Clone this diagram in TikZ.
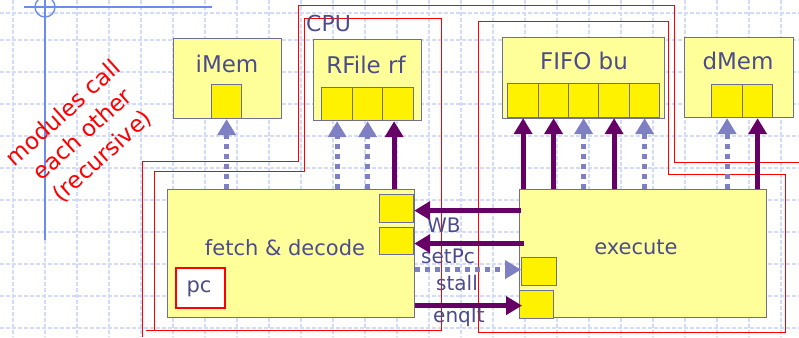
\documentclass[tikz,border=0pt]{standalone}
\usepackage{fontspec}
\setmainfont{DejaVu Sans}
\usetikzlibrary{arrows.meta}
\definecolor{boxy}{HTML}{FFFF99}
\definecolor{bordc}{HTML}{6E6E96}
\definecolor{txtc}{HTML}{4C4C8C}
\definecolor{purp}{HTML}{660066}
\definecolor{lav}{HTML}{7F7FC4}
\definecolor{gridc}{HTML}{D3DCF6}
\definecolor{bluel}{HTML}{6C8CEC}
\tikzset{
  modbox/.style={draw=bordc, fill=boxy, line width=1.2pt, inner sep=0pt, anchor=north west},
  cellbox/.style={draw=bordc, fill=yellow, line width=1.2pt, inner sep=0pt, anchor=north west},
  ttl/.style={text=txtc, font=\fontsize{23}{28}\selectfont, inner sep=0pt},
  mtxt/.style={text=txtc, font=\fontsize{21}{26}\selectfont, inner sep=0pt},
  sig/.style={text=txtc, font=\fontsize{20}{24}\selectfont, inner sep=0pt, anchor=base west},
  solidarr/.style={draw=purp, line width=5pt, -{Triangle[width=18pt,length=16pt]}},
  dotarr/.style={draw=lav, line width=5pt, dash pattern=on 5pt off 5pt, -{Triangle[width=18pt,length=16pt]}},
  redln/.style={draw=red, line width=1pt},
  gridln/.style={draw=gridc, line width=1.1pt, dash pattern=on 4pt off 2pt},
  blueln/.style={draw=bluel, line width=2pt},
}
\begin{document}
\begin{tikzpicture}[x=1pt,y=-1pt]
\useasboundingbox (0,0) rectangle (799,337);
\fill[white] (0,0) rectangle (799,337);
% background grid
\foreach \x in {13,45,...,781} \draw[gridln] (\x,0) -- (\x,337);
\foreach \y in {13,40,72,...,328} \draw[gridln] (0,\y) -- (799,\y);
\draw[blueln] (45,0) -- (45,240);
\draw[blueln] (24,7) -- (212,7);
\draw[draw=bluel, line width=1.4pt] (45,7) circle (10pt);
% red outlines
\draw[redln] (142,337) -- (142,161) -- (298,161) -- (298,6) -- (674,6) -- (674,162) -- (799,162);
\draw[redln] (146,330) -- (441,330) -- (441,19) -- (304,19) -- (304,171) -- (154,171) -- (154,330);
\draw[redln] (478,22) -- (668,22) -- (668,174) -- (785,174) -- (785,332) -- (478,332) -- cycle;
% modules
\node[modbox, minimum width=108pt, minimum height=80pt] (imem) at (173,38) {};
\node[cellbox, minimum width=30pt, minimum height=34pt] (ic) at (211,84) {};
\node[modbox, minimum width=108pt, minimum height=81pt] (rfile) at (313,39) {};
\node[cellbox, minimum width=31pt, minimum height=33pt] (r1) at (321,87) {};
\node[cellbox, minimum width=30pt, minimum height=33pt] (r2) at (352,87) {};
\node[cellbox, minimum width=31pt, minimum height=33pt] (r3) at (382,87) {};
\node[modbox, minimum width=162pt, minimum height=81pt] (fifo) at (502,37) {};
\node[cellbox, minimum width=31pt, minimum height=34pt] (f1) at (507,83) {};
\node[cellbox, minimum width=30pt, minimum height=34pt] (f2) at (538,83) {};
\node[cellbox, minimum width=30pt, minimum height=34pt] (f3) at (568,83) {};
\node[cellbox, minimum width=31pt, minimum height=34pt] (f4) at (598,83) {};
\node[cellbox, minimum width=30pt, minimum height=34pt] (f5) at (629,83) {};
\node[modbox, minimum width=109pt, minimum height=80pt] (dmem) at (684,37) {};
\node[cellbox, minimum width=31pt, minimum height=33pt] (d1) at (711,84) {};
\node[cellbox, minimum width=30pt, minimum height=33pt] (d2) at (742,84) {};
\node[modbox, minimum width=247pt, minimum height=128pt] (fetch) at (167,189) {};
\node[cellbox, minimum width=34pt, minimum height=28pt] (sq1) at (379,194) {};
\node[cellbox, minimum width=34pt, minimum height=27pt] (sq2) at (379,227) {};
\node[draw=red, fill=white, line width=1.6pt, inner sep=0pt, anchor=north west, minimum width=49pt, minimum height=40pt] (pcbox) at (175,267) {};
\node[modbox, minimum width=247pt, minimum height=128pt] (exec) at (519,189) {};
\node[cellbox, minimum width=35pt, minimum height=28pt] (esq1) at (521,257) {};
\node[cellbox, minimum width=34pt, minimum height=28pt] (esq2) at (519,290) {};
% texts
\node[ttl, anchor=base] (timem) at (227,72) {iMem};
\node[ttl, anchor=base] (trf) at (366,73) {RFile rf};
\node[ttl, anchor=base] (tfifo) at (584,69) {FIFO bu};
\node[ttl, anchor=base] (tdmem) at (738,69) {dMem};
\node[text=txtc, font=\fontsize{22}{26}\selectfont, inner sep=0pt, anchor=base west] (tcpu) at (306,32) {CPU};
\node[mtxt, anchor=base] (tfetch) at (285,255) {fetch \& decode};
\node[mtxt, anchor=base] (texec) at (636,254) {execute};
\node[mtxt, anchor=base] (tpc) at (199,292) {pc};
\node[sig] (twb) at (427,232) {WB};
\node[sig] (tsp) at (421,263) {setPc};
\node[sig] (tst) at (436,290) {stall};
\node[sig] (teq) at (433,322) {enqIt};
\node[text=red, font=\fontsize{23}{29}\selectfont, inner sep=0pt, rotate=42, align=center] (note) at (83,135) {modules call\\each other\\(recursive)};
% vertical connectors
\draw[dotarr] (fetch.north -| ic.south) -- (ic.south);
\draw[dotarr] (fetch.north -| r1.south) -- (r1.south);
\draw[dotarr] (fetch.north -| r2.south) -- (r2.south);
\coordinate (r3a) at ([xshift=-4pt]r3.south);
\draw[solidarr] (fetch.north -| r3a) -- (r3a);
\draw[solidarr] (exec.north -| f1.south) -- (f1.south);
\draw[solidarr] (exec.north -| f2.south) -- (f2.south);
\draw[dotarr] (exec.north -| f3.south) -- (f3.south);
\draw[solidarr] (exec.north -| f4.south) -- (f4.south);
\draw[dotarr] (exec.north -| f5.south) -- (f5.south);
\draw[dotarr] (exec.north -| d1.south) -- (d1.south);
\draw[solidarr] (exec.north -| d2.south) -- (d2.south);
% horizontal connectors
\coordinate (wbe) at ([yshift=-2pt]sq1.east);
\draw[solidarr] ([xshift=2pt]exec.west |- wbe) -- (wbe);
\coordinate (spe) at ([yshift=-2.5pt]sq2.east);
\coordinate (sps) at ([xshift=5pt]exec.west |- spe);
\draw[solidarr] (sps) -- (spe);
\coordinate (ste) at ([yshift=2pt]esq1.west);
\draw[dotarr] (fetch.east |- ste) -- (ste);
\coordinate (eqe) at ([xshift=3pt,yshift=-1pt]esq2.west);
\draw[solidarr] (fetch.east |- eqe) -- (eqe);
\end{tikzpicture}
\end{document}
